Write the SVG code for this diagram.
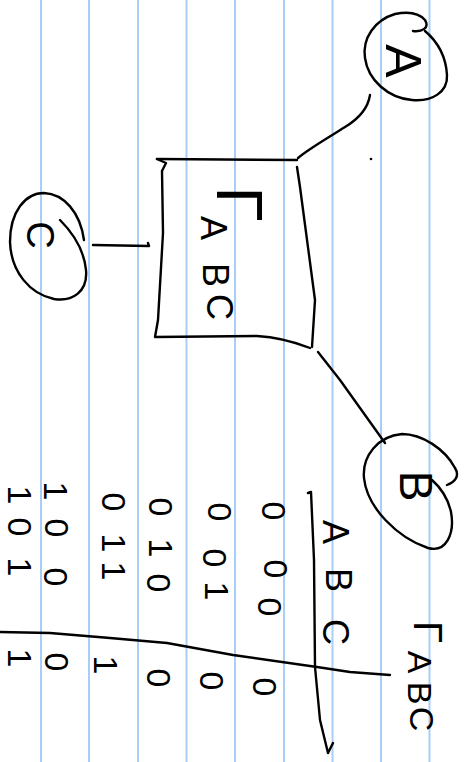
<svg xmlns="http://www.w3.org/2000/svg" width="467" height="762" viewBox="0 0 467 762">
  <style>
    .rule { stroke: #a8cdf6; stroke-width: 2; }
    .ink { fill: none; stroke: #000; stroke-width: 2.4; stroke-linecap: round; stroke-linejoin: round; }
    .hand { font-family: "Liberation Sans", "DejaVu Sans", sans-serif; fill: #000; text-anchor: middle; }
  </style>
  <rect width="467" height="762" fill="#fff"/>

  <!-- notebook ruling -->
  <g id="ruling">
    <line class="rule" x1="41" y1="0" x2="41" y2="762"/>
    <line class="rule" x1="89" y1="0" x2="89" y2="762"/>
    <line class="rule" x1="138" y1="0" x2="138" y2="762"/>
    <line class="rule" x1="186.5" y1="0" x2="186.5" y2="762"/>
    <line class="rule" x1="235" y1="0" x2="235" y2="762"/>
    <line class="rule" x1="284" y1="0" x2="284" y2="762"/>
    <line class="rule" x1="332.5" y1="0" x2="332.5" y2="762"/>
    <line class="rule" x1="381" y1="0" x2="381" y2="762"/>
    <line class="rule" x1="429.5" y1="0" x2="429.5" y2="762"/>
  </g>

  <!-- connectors -->
  <g id="connectors">
    <path class="ink" d="M370,95 C368,108 360,118 345,127 C328,138 310,148 298,158"/>
    <path class="ink" d="M93,245 L149,246 L148,243"/>
    <path class="ink" d="M318,352 L340,380 L385,443"/>
  </g>

  <!-- gate box -->
  <g id="box">
    <path class="ink" d="M157,159 L297,160"/>
    <path class="ink" d="M157,159 L166,163 L162,171 L163,233 L158,320 L155,337 L257,336 C275,337 292,341 310,348"/>
    <path class="ink" d="M297,167 L300,187 L315,300 L312,347"/>
    <text class="hand" font-size="64" transform="rotate(90)" x="204" y="-217">Γ</text>
    <text class="hand" font-size="36" transform="rotate(90)" x="228" y="-201">A</text>
    <text class="hand" font-size="36" transform="rotate(90)" x="275" y="-203">B</text>
    <text class="hand" font-size="36" transform="rotate(90)" x="307" y="-207">C</text>
  </g>

  <!-- input A -->
  <g id="node-a">
    <path class="ink" d="M413,31 C422,32 430,28 425,20 C418,12 405,12 395,14 C375,20 362,38 365,58 C368,80 388,98 412,100 C432,102 448,92 447,75 C446,58 438,42 425,31"/>
    <text class="hand" font-size="50" transform="rotate(90)" x="61" y="-386">A</text>
  </g>

  <!-- input C -->
  <g id="node-c">
    <path class="ink" d="M60,220 C72,232 84,250 86,270 C88,292 72,302 54,299 C30,294 11,272 10,242 C10,212 25,193 44,193 C64,194 80,212 84,240"/>
    <text class="hand" font-size="38" transform="rotate(90)" x="235" y="-27">C</text>
  </g>

  <!-- input B -->
  <g id="node-b">
    <path class="ink" d="M447,485 C455,482 460,476 455,468 C445,449 422,434 402,434 C378,436 362,456 364,478 C367,508 398,538 428,548 C446,553 455,534 451,512 C448,498 441,488 432,480"/>
    <text class="hand" font-size="46" transform="rotate(90)" x="486" y="-400">B</text>
  </g>

  <!-- truth table -->
  <g id="table">
    <path class="ink" d="M308,493 L311,492 L314,560 L315,667 L320,720 L328,753 L333,743"/>
    <path class="ink" d="M0,632 L50,633 L110,638 L167,643 L233,655 L317,667 L350,672 L390,675"/>
    <g class="hand" font-size="36" transform="rotate(90)">
      <text x="532" y="-323">A</text>
      <text x="580" y="-326">B</text>
      <text x="632" y="-323">C</text>
    </g>
    <g class="hand" font-size="34" transform="rotate(90)">
      <text x="511" y="-262">0</text><text x="569" y="-264">0</text><text x="607" y="-258">0</text><text x="687" y="-253">0</text>
      <text x="512" y="-208">0</text><text x="558" y="-203">0</text><text x="591" y="-205">1</text><text x="681" y="-200">0</text>
      <text x="507" y="-149">0</text><text x="548" y="-149">1</text><text x="583" y="-147">0</text><text x="678" y="-147">0</text>
      <text x="502" y="-102">0</text><text x="543" y="-102">1</text><text x="571" y="-102">1</text><text x="665" y="-94">1</text>
      <text x="491" y="-44">1</text><text x="528" y="-45">0</text><text x="577" y="-44">0</text><text x="662" y="-45">0</text>
      <text x="495" y="-8">1</text><text x="527" y="-8">0</text><text x="567" y="-8">1</text><text x="658" y="-8">1</text>
    </g>
    <g class="hand" transform="rotate(90)">
      <text font-size="40" x="632" y="-414">Γ</text>
      <text font-size="34" x="662" y="-408">A</text>
      <text font-size="34" x="693" y="-408">B</text>
      <text font-size="34" x="719" y="-410">C</text>
    </g>
  </g>

  <circle cx="371" cy="159" r="1.3" fill="#000"/>
</svg>
